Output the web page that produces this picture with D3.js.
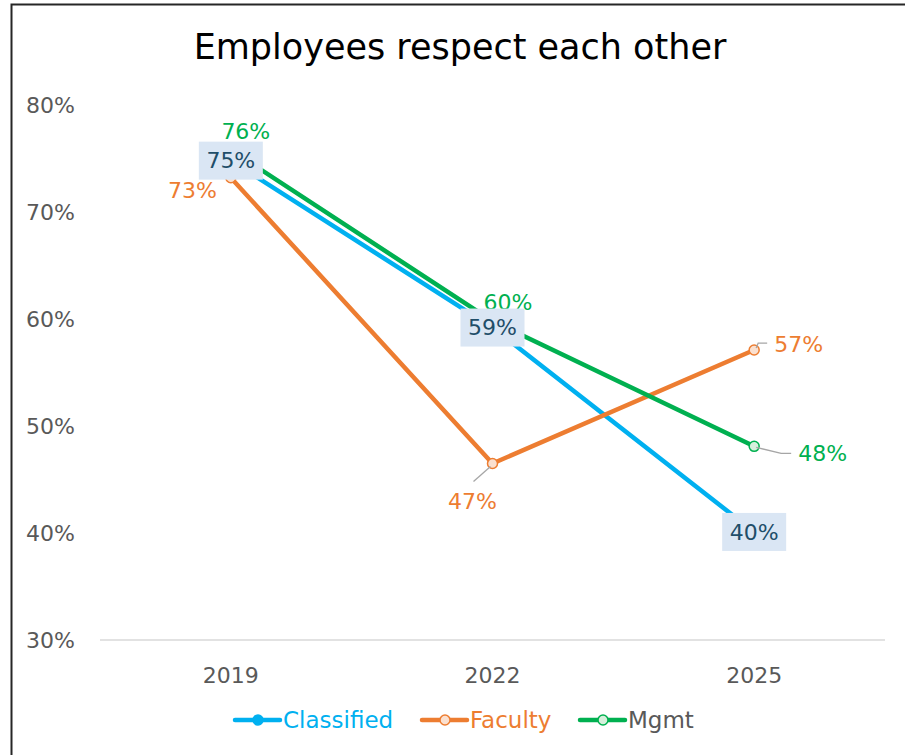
<!DOCTYPE html>
<html>
<head>
<meta charset="utf-8">
<script src="https://cdn.jsdelivr.net/npm/d3@7"></script>
<style>
  body { margin: 0; background: #fff; }
  svg { display: block; font-family: "DejaVu Sans", "Noto Sans", sans-serif; }
</style>
</head>
<body>
<svg id="chart" width="905" height="755"></svg>
<script>
// chart data
const years = ["2019", "2022", "2025"];
const classified = [74.8, 59.2, 40.1];
const faculty = [73.2, 46.5, 57.1];
const mgmt = [75.8, 59.8, 48.1];
const yTicks = [30, 40, 50, 60, 70, 80];

const series = [
  { name: "Classified", values: classified, color: "#00B0F0", fill: "#00B0F0", legendText: "#00B0F0" },
  { name: "Faculty", values: faculty, color: "#ED7D31", fill: "#FBE0CF", legendText: "#ED7D31" },
  { name: "Mgmt", values: mgmt, color: "#00B050", fill: "#D6F0DC", legendText: "#595959" }
];

const svg = d3.select("#chart");

// chart border
svg.append("rect")
  .attr("x", 11.5).attr("y", 4.5)
  .attr("width", 905).attr("height", 760)
  .attr("fill", "none").attr("stroke", "#262626").attr("stroke-width", 2);

// title
svg.append("text")
  .attr("x", 460).attr("y", 59)
  .attr("text-anchor", "middle")
  .attr("font-size", 35)
  .attr("fill", "#000")
  .text("Employees respect each other");

const x = d3.scalePoint().domain(years).range([100, 885]).padding(0.5);
const y = d3.scaleLinear().domain([30, 80]).range([640, 105]);

// y tick labels
svg.append("g").selectAll("text")
  .data(yTicks)
  .join("text")
  .attr("x", 75).attr("y", d => y(d))
  .attr("dy", "0.35em")
  .attr("text-anchor", "end")
  .attr("font-size", 22)
  .attr("fill", "#595959")
  .text(d => d + "%");

// baseline
svg.append("line")
  .attr("x1", 100).attr("x2", 885)
  .attr("y1", y(30)).attr("y2", y(30))
  .attr("stroke", "#D9D9D9").attr("stroke-width", 1.5);

// x tick labels
svg.append("g").selectAll("text")
  .data(years)
  .join("text")
  .attr("x", d => x(d)).attr("y", 675)
  .attr("dy", "0.35em")
  .attr("text-anchor", "middle")
  .attr("font-size", 22)
  .attr("fill", "#595959")
  .text(d => d);

const line = d3.line()
  .x((d, i) => x(years[i]))
  .y(d => y(d));

series.forEach(s => {
  svg.append("path")
    .datum(s.values)
    .attr("d", line)
    .attr("fill", "none")
    .attr("stroke", s.color)
    .attr("stroke-width", 4.5)
    .attr("stroke-linejoin", "round");
  svg.append("g").selectAll("circle")
    .data(s.values)
    .join("circle")
    .attr("cx", (d, i) => x(years[i]))
    .attr("cy", d => y(d))
    .attr("r", 5)
    .attr("fill", s.fill)
    .attr("stroke", s.color)
    .attr("stroke-width", 1.5);
});

const fmt = v => Math.round(v) + "%";

// leader lines
const leaders = [
  [[x("2022") - 2, y(faculty[1]) + 3], [x("2022") - 19, y(faculty[1]) + 18]],
  [[x("2025") + 2, y(faculty[2]) - 2], [x("2025") + 4, y(faculty[2]) - 7], [x("2025") + 13, y(faculty[2]) - 7]],
  [[x("2025") + 2, y(mgmt[2]) + 1], [x("2025") + 27, y(mgmt[2]) + 7], [x("2025") + 37, y(mgmt[2]) + 7]]
];
leaders.forEach(pts => {
  svg.append("path")
    .attr("d", d3.line()(pts))
    .attr("fill", "none")
    .attr("stroke", "#A6A6A6")
    .attr("stroke-width", 1.3);
});

// Faculty labels
const facOffsets = [[-14, 13, "end"], [-20, 38, "middle"], [20, -6, "start"]];
svg.append("g").selectAll("text")
  .data(faculty)
  .join("text")
  .attr("x", (d, i) => x(years[i]) + facOffsets[i][0])
  .attr("y", (d, i) => y(d) + facOffsets[i][1])
  .attr("dy", "0.35em")
  .attr("text-anchor", (d, i) => facOffsets[i][2])
  .attr("font-size", 22)
  .attr("fill", "#ED7D31")
  .text(fmt);

// Mgmt labels
const mgmtOffsets = [[15, -19, "middle"], [-9, -19, "start"], [44, 7, "start"]];
svg.append("g").selectAll("text")
  .data(mgmt)
  .join("text")
  .attr("x", (d, i) => x(years[i]) + mgmtOffsets[i][0])
  .attr("y", (d, i) => y(d) + mgmtOffsets[i][1])
  .attr("dy", "0.35em")
  .attr("text-anchor", (d, i) => mgmtOffsets[i][2])
  .attr("font-size", 22)
  .attr("fill", "#00B050")
  .text(fmt);

// Classified labels in boxes
const cls = svg.append("g").selectAll("g")
  .data(classified)
  .join("g")
  .attr("transform", (d, i) => `translate(${x(years[i])},${y(d)})`);
cls.append("rect")
  .attr("x", -32).attr("y", -19)
  .attr("width", 64).attr("height", 38)
  .attr("fill", "#DAE6F4");
cls.append("text")
  .attr("dy", "0.35em")
  .attr("text-anchor", "middle")
  .attr("font-size", 22)
  .attr("fill", "#1F4E69")
  .text(fmt);

// legend
const legendX = [235, 422, 580];
const leg = svg.append("g").selectAll("g")
  .data(series)
  .join("g")
  .attr("transform", (d, i) => `translate(${legendX[i]},720)`);
leg.append("line")
  .attr("x1", 0).attr("x2", 45)
  .attr("stroke", d => d.color)
  .attr("stroke-width", 4.5)
  .attr("stroke-linecap", "round");
leg.append("circle")
  .attr("cx", 23).attr("r", 5)
  .attr("fill", d => d.fill)
  .attr("stroke", d => d.color)
  .attr("stroke-width", 1.5);
leg.append("text")
  .attr("x", 48)
  .attr("dy", "0.35em")
  .attr("font-size", 23)
  .attr("fill", d => d.legendText)
  .text(d => d.name);
</script>
</body>
</html>
